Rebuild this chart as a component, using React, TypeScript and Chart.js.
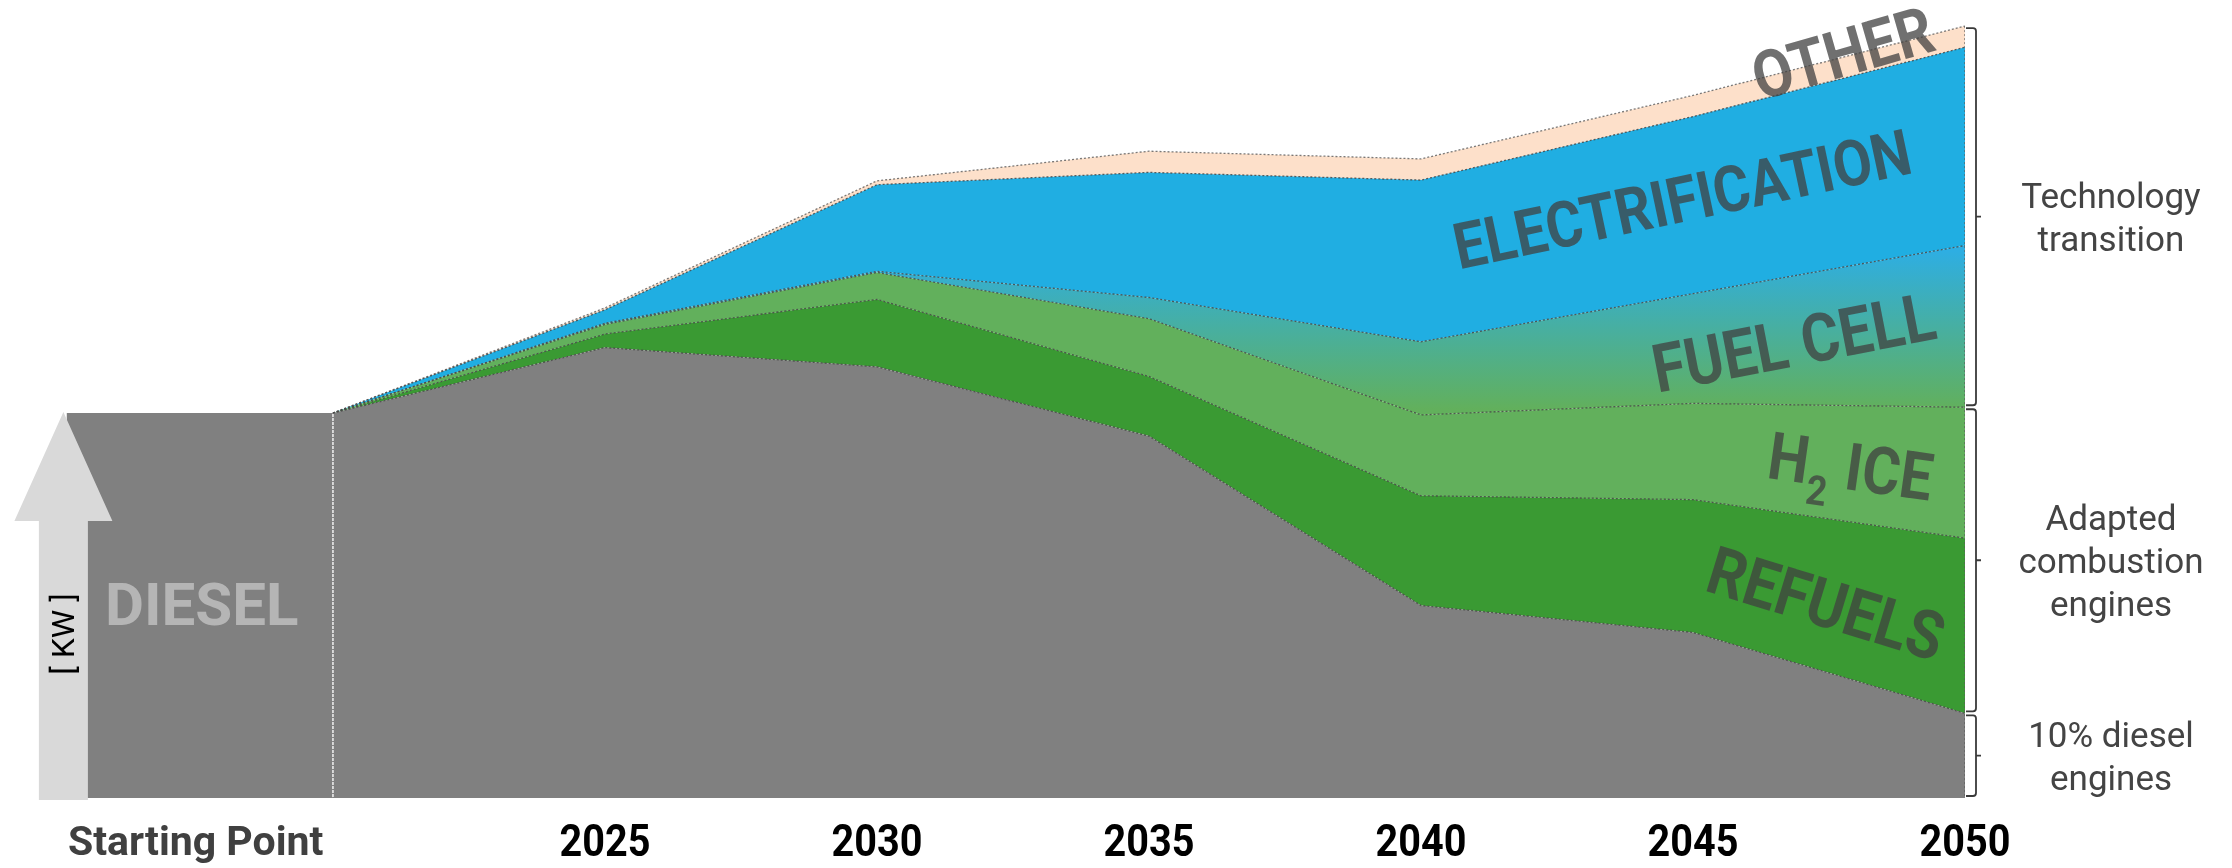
import React, { useEffect, useRef } from 'react';
import { Chart, registerables } from 'chart.js';

Chart.register(...registerables);

// ---------- data ----------
const years = [2020, 2025, 2030, 2035, 2040, 2045, 2050];
const diesel = [100, 117, 112, 94, 50, 43, 22];
const refuels = [0, 3.5, 17.5, 15.5, 28.5, 34.5, 45.5];
const h2Ice = [0, 2.5, 7, 15, 21, 25, 34];
const fuelCell = [0, 0.3, 0.3, 5.5, 19, 28.5, 42];
const electrification = [0, 3.5, 22.5, 32.5, 42, 46, 51.5];
const other = [0, 0.5, 1, 5.5, 5.5, 5.5, 5.5];
const startingPointValue = 100;
const startingPointFrom = 2015.1;
const tickValues = [2025, 2030, 2035, 2040, 2045, 2050];
const tickLabels = ['2025', '2030', '2035', '2040', '2045', '2050'];
const startLabel = 'Starting Point';
const unitLabel = '[ KW ]';
const seriesNames = ['DIESEL', 'REFUELS', 'H2 ICE', 'FUEL CELL', 'ELECTRIFICATION', 'OTHER'];
const groupLabels = [['Technology', 'transition'], ['Adapted', 'combustion', 'engines'], ['10% diesel', 'engines']];

// ---------- styling ----------
const FONT = 'Roboto, "Noto Sans", sans-serif';
const LABEL_COLOR = 'rgba(64,64,64,0.75)';
const CONDENSE = 0.88;

const areaLabelStyle = [
  { name: 'OTHER', x: 2047.75, y: 193.6, angle: -16, size: 66 },
  { name: 'ELECTRIFICATION', x: 2044.8, y: 155.6, angle: -12, size: 64 },
  { name: 'FUEL CELL', x: 2046.85, y: 118.4, angle: -11, size: 67 },
  { name: 'H2 ICE', x: 2047.9, y: 86.2, angle: 8, size: 66 },
  { name: 'REFUELS', x: 2047.45, y: 50.6, angle: 17, size: 67 },
];

const sum = (arrs: number[][], i: number) => arrs.reduce((a, r) => a + r[i], 0);

function capText(ctx: CanvasRenderingContext2D, text: string, x: number, y: number, size: number, weight: string, color: string, sx = 1) {
  ctx.save();
  ctx.translate(x, y);
  ctx.scale(sx, 1);
  ctx.font = `${weight} ${size}px ${FONT}`;
  ctx.fillStyle = color;
  ctx.textAlign = 'center';
  ctx.textBaseline = 'alphabetic';
  ctx.fillText(text, 0, size * 0.355);
  ctx.restore();
}

const overlayPlugin = {
  id: 'overlay',
  afterDatasetsDraw(chart: any) {
    const { ctx, chartArea, scales } = chart;
    const xs = scales.x;
    const ys = scales.y;
    const last = years.length - 1;
    ctx.save();

    // white divider between starting block and timeline
    const xDiv = xs.getPixelForValue(years[0]);
    ctx.strokeStyle = 'rgba(255,255,255,0.95)';
    ctx.lineWidth = 1.4;
    ctx.setLineDash([3, 1]);
    ctx.beginPath();
    ctx.moveTo(xDiv, ys.getPixelForValue(startingPointValue) + 1);
    ctx.lineTo(xDiv, ys.getPixelForValue(0));
    ctx.stroke();

    // right dotted edge
    ctx.strokeStyle = 'rgba(90,90,90,0.6)';
    ctx.lineWidth = 1;
    ctx.setLineDash([2, 2]);
    ctx.beginPath();
    ctx.moveTo(chartArea.right - 0.5, ys.getPixelForValue(sum([diesel, refuels, h2Ice, fuelCell, electrification, other], last)));
    ctx.lineTo(chartArea.right - 0.5, ys.getPixelForValue(0));
    ctx.stroke();
    ctx.setLineDash([]);

    // arrow
    const aTop = ys.getPixelForValue(startingPointValue) - 1;
    const aBot = ys.getPixelForValue(0) + 2;
    const aCx = xs.getPixelForValue(startingPointFrom) - 3;
    const headH = 109;
    ctx.fillStyle = '#d9d9d9';
    ctx.beginPath();
    ctx.moveTo(aCx, aTop);
    ctx.lineTo(aCx + 49, aTop + headH);
    ctx.lineTo(aCx + 24.5, aTop + headH);
    ctx.lineTo(aCx + 24.5, aBot);
    ctx.lineTo(aCx - 24.5, aBot);
    ctx.lineTo(aCx - 24.5, aTop + headH);
    ctx.lineTo(aCx - 49, aTop + headH);
    ctx.closePath();
    ctx.fill();

    // unit label
    ctx.save();
    ctx.translate(aCx + 3, 634);
    ctx.rotate(-Math.PI / 2);
    ctx.font = `400 32px ${FONT}`;
    ctx.fillStyle = '#000';
    ctx.textAlign = 'center';
    ctx.textBaseline = 'middle';
    ctx.fillText(unitLabel, 0, 0);
    ctx.restore();

    // DIESEL label
    const startMid = (startingPointFrom + years[0]) / 2;
    capText(ctx, seriesNames[0], xs.getPixelForValue(startMid) + 2, ys.getPixelForValue(50.4), 60, '700', '#b5b5b5');

    // area labels
    for (const l of areaLabelStyle) {
      const px = xs.getPixelForValue(l.x);
      const py = ys.getPixelForValue(l.y);
      ctx.save();
      ctx.translate(px, py);
      ctx.rotate((l.angle * Math.PI) / 180);
      ctx.scale(CONDENSE, 1);
      ctx.fillStyle = LABEL_COLOR;
      ctx.textBaseline = 'alphabetic';
      if (l.name === 'H2 ICE') {
        const big = `700 ${l.size}px ${FONT}`;
        const small = `700 ${Math.round(l.size * 0.62)}px ${FONT}`;
        ctx.font = big;
        const wH = ctx.measureText('H').width;
        const wRest = ctx.measureText(' ICE').width;
        ctx.font = small;
        const w2 = ctx.measureText('2').width + 2;
        const x0 = -(wH + w2 + wRest) / 2;
        const base = l.size * 0.355;
        ctx.textAlign = 'left';
        ctx.font = big;
        ctx.fillText('H', x0, base);
        ctx.font = small;
        ctx.fillText('2', x0 + wH + 1, base + l.size * 0.3);
        ctx.font = big;
        ctx.fillText(' ICE', x0 + wH + w2, base);
      } else {
        ctx.font = `700 ${l.size}px ${FONT}`;
        ctx.textAlign = 'center';
        ctx.fillText(l.name, 0, l.size * 0.355);
      }
      ctx.restore();
    }

    // x labels
    const labelY = chartArea.bottom + 42;
    capText(ctx, startLabel, xs.getPixelForValue(startMid) - 4, labelY, 41, '700', '#404040');
    tickValues.forEach((v, i) => {
      capText(ctx, tickLabels[i], xs.getPixelForValue(v), labelY, 44, '700', '#000', 0.9);
    });

    // brackets + group labels
    const totTop = sum([diesel, refuels, h2Ice, fuelCell, electrification, other], last);
    const adaptTop = sum([diesel, refuels, h2Ice], last);
    const dieselTop = diesel[last];
    const ranges = [
      [totTop, adaptTop],
      [adaptTop, dieselTop],
      [dieselTop, 0],
    ];
    const bx0 = chartArea.right + 1;
    const bx1 = chartArea.right + 11;
    ranges.forEach(([hi, lo], gi) => {
      const yT = ys.getPixelForValue(hi) + 2;
      const yB = ys.getPixelForValue(lo) - 2;
      const yM = (yT + yB) / 2;
      ctx.strokeStyle = '#3a3a3a';
      ctx.lineWidth = 1.8;
      ctx.beginPath();
      ctx.moveTo(bx0, yT);
      ctx.lineTo(bx1 - 3, yT);
      ctx.quadraticCurveTo(bx1, yT, bx1, yT + 3);
      ctx.lineTo(bx1, yB - 3);
      ctx.quadraticCurveTo(bx1, yB, bx1 - 3, yB);
      ctx.lineTo(bx0, yB);
      ctx.moveTo(bx1, yM);
      ctx.lineTo(bx1 + 5, yM);
      ctx.stroke();
      const lines = groupLabels[gi];
      const lh = 43;
      lines.forEach((t, li) => {
        const cy = yM + (li - (lines.length - 1) / 2) * lh;
        capText(ctx, t, chartArea.right + 146, cy, 35, '400', '#444444');
      });
    });

    ctx.restore();
  },
};

export default function App() {
  const ref = useRef<HTMLCanvasElement>(null);
  useEffect(() => {
    const border = { borderColor: 'rgba(70,70,70,0.85)', borderWidth: 1.3, borderDash: [2, 2], pointRadius: 0, tension: 0, stack: 'main' };
    const pts = (vals: number[]) => years.map((yr, i) => ({ x: yr, y: vals[i] }));
    const fuelCellFill = (c: any) => {
      const ch = c.chart;
      if (!ch.chartArea) return '#4aaec0';
      const ys = ch.scales.y;
      const g = ch.ctx.createLinearGradient(0, ys.getPixelForValue(142), 0, ys.getPixelForValue(101));
      g.addColorStop(0, '#2eaee2');
      g.addColorStop(1, '#62b05c');
      return g;
    };
    const chart = new Chart(ref.current!, {
      type: 'line',
      data: {
        datasets: [
          { label: seriesNames[0], data: pts(diesel), backgroundColor: '#808080', fill: 'origin', ...border },
          { label: seriesNames[1], data: pts(refuels), backgroundColor: '#3a9a33', fill: '-1', ...border },
          { label: seriesNames[2], data: pts(h2Ice), backgroundColor: '#62b05c', fill: '-1', ...border },
          { label: seriesNames[3], data: pts(fuelCell), backgroundColor: fuelCellFill, fill: '-1', ...border },
          { label: seriesNames[4], data: pts(electrification), backgroundColor: '#20aee2', fill: '-1', ...border },
          { label: seriesNames[5], data: pts(other), backgroundColor: '#fde0ca', fill: '-1', ...border, borderColor: 'rgba(90,90,90,0.8)' },
          {
            label: startLabel,
            data: [{ x: startingPointFrom, y: startingPointValue }, { x: years[0], y: startingPointValue }],
            backgroundColor: '#808080',
            fill: 'origin',
            borderWidth: 0,
            pointRadius: 0,
            stack: 'start',
          },
        ] as any,
      },
      options: {
        animation: false,
        responsive: false,
        layout: { padding: { left: 66.4, right: 267, top: 8.75, bottom: 70 } },
        plugins: { legend: { display: false }, tooltip: { enabled: false } },
        scales: {
          x: { type: 'linear', min: startingPointFrom, max: 2050, display: false },
          y: { min: 0, max: 205, stacked: true, display: false },
        },
      } as any,
      plugins: [overlayPlugin],
    });
    return () => chart.destroy();
  }, []);
  return (
    <div style={{ position: 'fixed', left: 0, top: 0, width: 2232, height: 868, background: '#fff' }}>
      <canvas ref={ref} width={2232} height={868} style={{ width: 2232, height: 868, display: 'block' }} />
    </div>
  );
}
